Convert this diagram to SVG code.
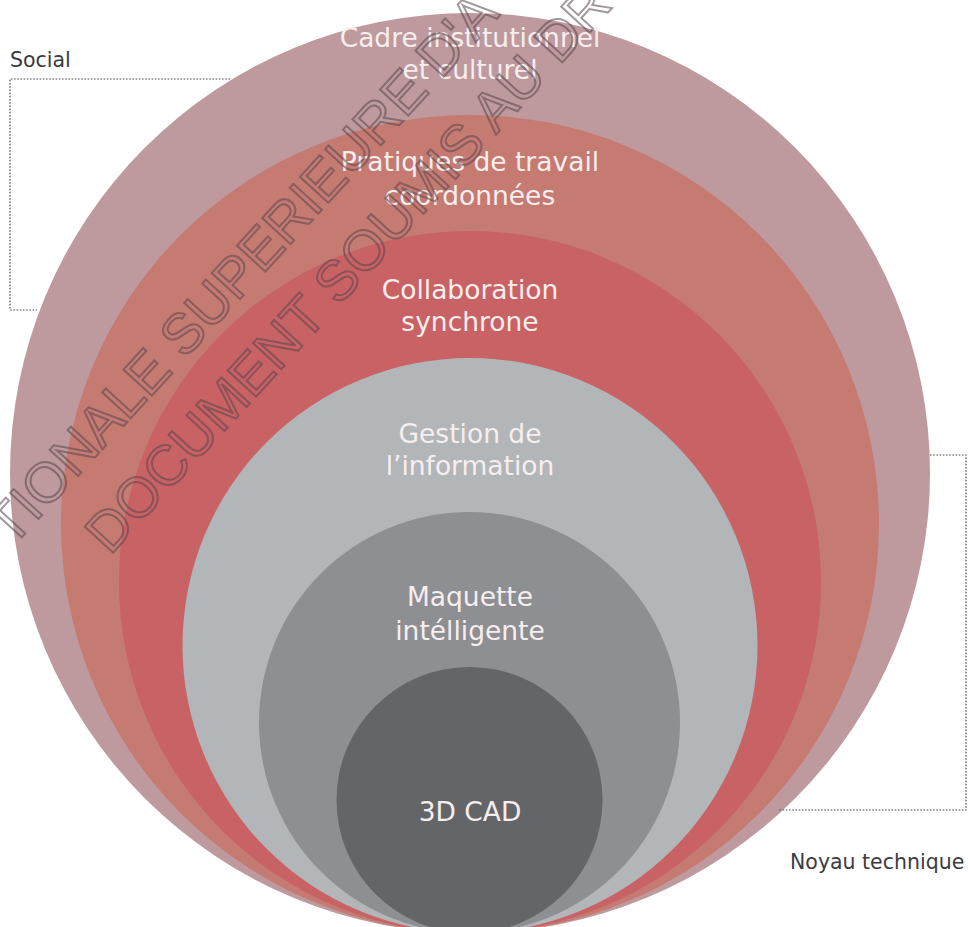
<svg xmlns="http://www.w3.org/2000/svg" width="968" height="927" viewBox="0 0 968 927">
<style>
.lbl{font-family:"DejaVu Sans","Liberation Sans",sans-serif;font-size:26.5px;fill:#f7eeee;text-anchor:middle}
.side{font-family:"DejaVu Sans","Liberation Sans",sans-serif;font-size:20.5px;fill:#3b3b40}
.br{fill:none;stroke:#4a4a4a;stroke-width:1.2;stroke-dasharray:1.6 1.6}
.wm{font-family:"Liberation Sans",Arial,sans-serif;font-size:56px;fill:none;stroke:#55464a;stroke-opacity:0.55;stroke-width:2}
</style>
<rect width="968" height="927" fill="#ffffff"/>
<g id="layers">
<g id="n1"><circle cx="470" cy="473" r="460" fill="#be9a9e"/><text class="lbl" x="470" y="47">Cadre institutionnel</text><text class="lbl" x="470" y="79">et culturel</text></g>
<g id="n2"><circle cx="470" cy="524" r="409" fill="#c57a72"/><text class="lbl" x="470" y="171">Pratiques de travail</text><text class="lbl" x="470" y="205">coordonnées</text></g>
<g id="n3"><circle cx="470" cy="582" r="351" fill="#c96264"/><text class="lbl" x="470" y="299">Collaboration</text><text class="lbl" x="470" y="331">synchrone</text></g>
<g id="n4"><circle cx="470" cy="645.5" r="287.5" fill="#b3b6b9"/><text class="lbl" x="470" y="443">Gestion de</text><text class="lbl" x="470" y="475">l’information</text></g>
<g id="n5"><circle cx="469.5" cy="722.5" r="210.5" fill="#8d8f93"/><text class="lbl" x="470" y="606">Maquette</text><text class="lbl" x="470" y="640">intélligente</text></g>
<g id="n6"><circle cx="469.5" cy="800" r="133" fill="#636568"/><text class="lbl" x="470" y="821">3D CAD</text></g>
</g>
<g id="connectors">
<path class="br" d="M230 79 H10 V310 H37"/>
<path class="br" d="M930 455 H966 V810 H778"/>
</g>
<g id="social"><text class="side" x="10" y="67">Social</text></g>
<g id="noyau"><text class="side" x="790" y="869">Noyau technique</text></g>
<g id="watermark">
<text class="wm" transform="translate(12 548) rotate(-47.5)">TIONALE SUPERIEURE D'A</text>
<text class="wm" transform="translate(110 556) rotate(-47.5)">DOCUMENT SOUMIS AU DR</text>
</g>
</svg>
